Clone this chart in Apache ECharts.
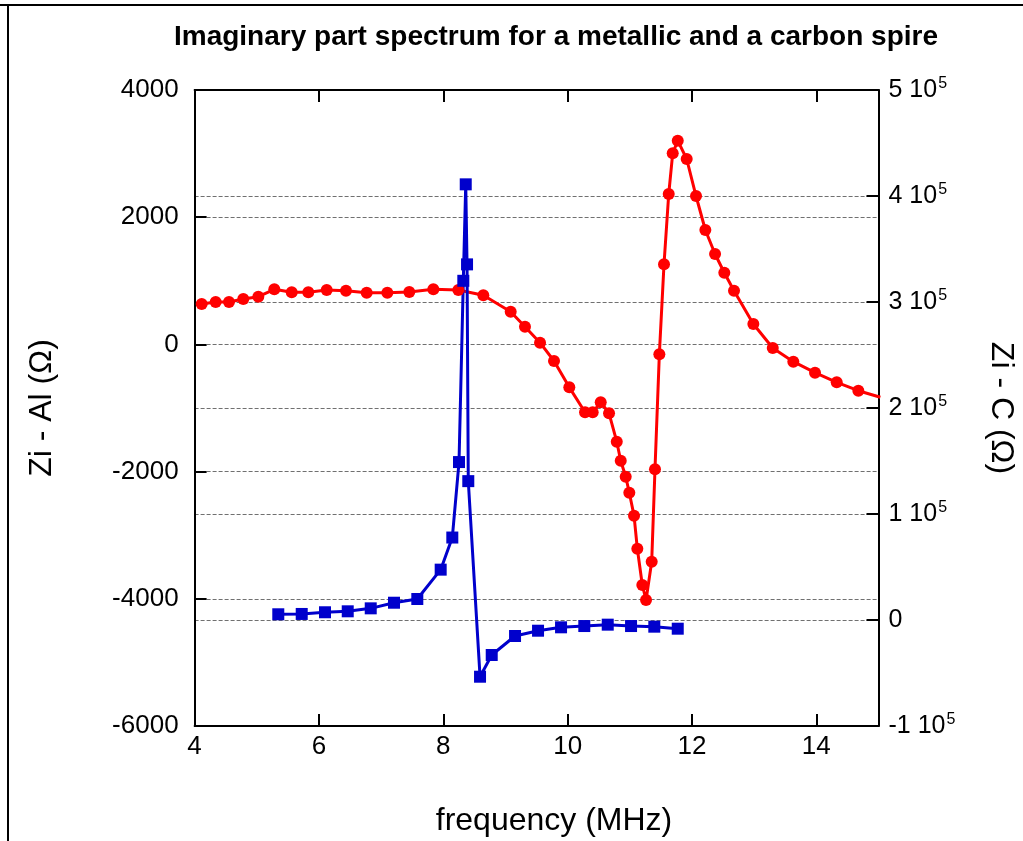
<!DOCTYPE html>
<html>
<head>
<meta charset="utf-8">
<script src="https://cdn.jsdelivr.net/npm/echarts@6/dist/echarts.min.js"></script>
<style>
html,body{margin:0;padding:0;background:#fff;}
#chart{width:1023px;height:841px;}
</style>
</head>
<body>
<div id="chart"></div>
<script>
// Zi - Al (red circles, left axis)
const freqAl = [4.114, 4.339, 4.553, 4.783, 5.025, 5.282, 5.562, 5.829, 6.125, 6.435,
  6.768, 7.100, 7.453, 7.840, 8.242, 8.644, 9.084, 9.314, 9.556, 9.781,
  10.027, 10.280, 10.403, 10.532, 10.666, 10.790, 10.854, 10.934, 10.992, 11.068,
  11.121, 11.201, 11.261, 11.352, 11.405, 11.475, 11.550, 11.626, 11.690, 11.771,
  11.915, 12.065, 12.215, 12.371, 12.520, 12.676, 12.987, 13.299, 13.630, 13.979,
  14.328, 14.676, 15.03];
const ziAl = [635, 667, 667, 714, 750, 866, 819, 819, 855, 844,
  813, 813, 824, 866, 855, 772, 514, 278, 27, -261,
  -675, -1068, -1068, -910, -1083, -1530, -1829, -2080, -2332, -2693,
  -3212, -3783, -4019, -3417, -1964, -156, 1259, 2365, 3005, 3203,
  2915, 2333, 1799, 1421, 1127, 844, 321, -57, -272, -445,
  -596, -728, -830];
// Zi - C (blue squares, right axis)
const freqC = [5.346, 5.723, 6.097, 6.463, 6.833, 7.207, 7.582, 7.958, 8.145, 8.253,
  8.322, 8.361, 8.382, 8.402, 8.591, 8.779, 9.154, 9.524, 9.894, 10.268,
  10.645, 11.020, 11.394, 11.771];
const ziC = [5400, 5700, 7300, 8200, 11000, 16300, 19800, 47500, 77800, 149000,
  320000, 411000, 335500, 131000, -53500, -33000, -15100, -10100, -6900, -5700,
  -4400, -5700, -6300, -8200];
// axis ticks
const xTicks = [4, 6, 8, 10, 12, 14];
const leftTicks = [-6000, -4000, -2000, 0, 2000, 4000];
const rightTicks = [-100000, 0, 100000, 200000, 300000, 400000, 500000];

const titleText = 'Imaginary part spectrum for a metallic and a carbon spire';
const xName = 'frequency (MHz)';
const leftName = 'Zi - Al (\u03A9)';
const rightName = 'Zi - C (\u03A9)';

const FONT = '"Liberation Sans", Arial, sans-serif';
const chart = echarts.init(document.getElementById('chart'), null, {renderer: 'canvas'});

function pairs(xs, ys) { return xs.map((x, i) => [x, ys[i]]); }

function rightLabel(v) {
  if (v === 0) return '{b|0}';
  const m = Math.round(v / 100000);
  return '{b|' + m + ' 10}{s|5}';
}

const gridLine = {show: true, lineStyle: {color: '#707070', width: 1, type: [4, 2]}};
const axisLine = {show: true, onZero: false, lineStyle: {color: '#000', width: 2}};
const tick = {show: true, inside: true, length: 12, lineStyle: {color: '#000', width: 2}};

chart.setOption({
  animation: false,
  backgroundColor: '#fff',
  grid: {left: 194.6, right: 144.5, top: 90, bottom: 115, containLabel: false, outerBoundsMode: 'none'},
  graphic: [
    {type: 'line', shape: {x1: 0, y1: 5, x2: 1023, y2: 5}, style: {stroke: '#000', lineWidth: 2}},
    {type: 'line', shape: {x1: 8, y1: 5, x2: 8, y2: 841}, style: {stroke: '#000', lineWidth: 2}},
    {type: 'text', x: 556, y: 37, style: {text: titleText, fill: '#000', font: 'bold 28px ' + FONT, textAlign: 'center', textVerticalAlign: 'middle'}},
    {type: 'text', x: 554, y: 821, style: {text: xName, fill: '#000', font: '32px ' + FONT, textAlign: 'center', textVerticalAlign: 'middle'}}
  ],
  xAxis: [
    {type: 'value', position: 'bottom', min: 4, max: 15, interval: 2,
     axisLine: axisLine, axisTick: tick,
     axisLabel: {show: true, margin: 8, fontSize: 26, fontFamily: FONT, color: '#000',
       formatter: v => (xTicks.indexOf(v) >= 0 ? String(v) : '')},
     splitLine: {show: false}},
    {type: 'value', position: 'top', min: 4, max: 15, interval: 2,
     axisLine: axisLine, axisTick: tick,
     axisLabel: {show: false},
     splitLine: {show: false}}
  ],
  yAxis: [
    {type: 'value', position: 'left', min: -6000, max: 4000, interval: 2000,
     name: leftName, nameLocation: 'middle', nameGap: 136, nameRotate: 90,
     nameTextStyle: {fontSize: 32, fontFamily: FONT, color: '#000'},
     axisLine: axisLine, axisTick: tick,
     axisLabel: {show: true, margin: 16, fontSize: 26, fontFamily: FONT, color: '#000',
       formatter: v => (leftTicks.indexOf(v) >= 0 ? String(v) : '')},
     splitLine: gridLine},
    {type: 'value', position: 'right', min: -100000, max: 500000, interval: 100000,
     name: rightName, nameLocation: 'middle', nameGap: 106, nameRotate: -90,
     nameTextStyle: {fontSize: 32, fontFamily: FONT, color: '#000'},
     axisLine: axisLine, axisTick: tick,
     axisLabel: {show: true, margin: 10, fontFamily: FONT, color: '#000',
       formatter: v => (rightTicks.indexOf(v) >= 0 ? rightLabel(v) : ''),
       rich: {
         b: {fontSize: 25, fontFamily: FONT, color: '#000'},
         s: {fontSize: 16, fontFamily: FONT, color: '#000', padding: [0, 0, 13, 1]}
       }},
     splitLine: gridLine}
  ],
  series: [
    {name: 'Zi - Al', type: 'line', xAxisIndex: 0, yAxisIndex: 0,
     data: pairs(freqAl, ziAl), symbol: 'circle', symbolSize: 12, showAllSymbol: true,
     clip: true, lineStyle: {color: '#ff0000', width: 3}, itemStyle: {color: '#ff0000'}},
    {name: 'Zi - C', type: 'line', xAxisIndex: 0, yAxisIndex: 1,
     data: pairs(freqC, ziC), symbol: 'rect', symbolSize: 12, showAllSymbol: true,
     clip: true, lineStyle: {color: '#0000cc', width: 3}, itemStyle: {color: '#0000cc'}}
  ]
});
</script>
</body>
</html>
